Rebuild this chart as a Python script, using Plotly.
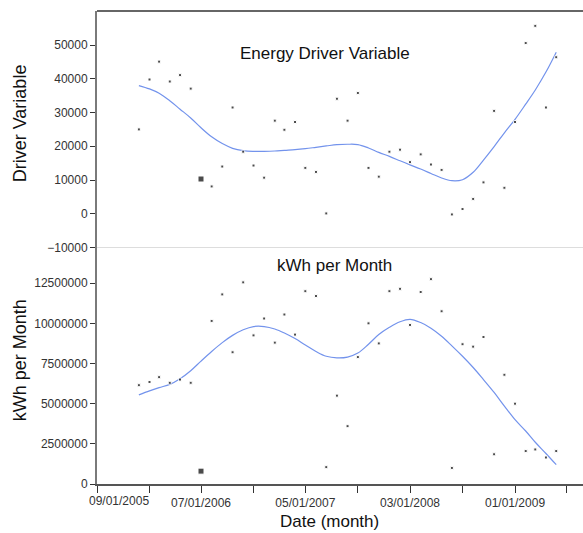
import plotly.graph_objects as go

# ---------------- data ----------------
months = [
    "2006-01-01", "2006-02-01", "2006-03-01", "2006-04-01", "2006-05-01", "2006-06-01",
    "2006-07-01", "2006-08-01", "2006-09-01", "2006-10-01", "2006-11-01", "2006-12-01",
    "2007-01-01", "2007-02-01", "2007-03-01", "2007-04-01", "2007-05-01", "2007-06-01",
    "2007-07-01", "2007-08-01", "2007-09-01", "2007-10-01", "2007-11-01", "2007-12-01",
    "2008-01-01", "2008-02-01", "2008-03-01", "2008-04-01", "2008-05-01", "2008-06-01",
    "2008-07-01", "2008-08-01", "2008-09-01", "2008-10-01", "2008-11-01", "2008-12-01",
    "2009-01-01", "2009-02-01", "2009-03-01", "2009-04-01", "2009-05-01",
]

driver_values = [
    25000, 39800, 45100, 39200, 41100, 37100, 10300, 8100, 14000, 31500, 18400, 14300,
    10700, 27600, 24900, 27200, 13600, 12400, 100, 34100, 27600, 35800, 13600, 11000,
    18400, 19000, 15300, 17600, 14600, 13000, -200, 1400, 4400, 9300, 30500, 7700,
    27200, 50600, 55700, 31500, 46400,
]

driver_smooth = [
    38000, 37000, 35700, 33500, 31000, 28400, 25500, 22800, 20800, 19400, 18700, 18500,
    18500, 18600, 18800, 19000, 19300, 19700, 20100, 20500, 20600, 20500, 19500, 18200,
    17000, 15700, 14500, 13250, 11950, 10600, 9800, 10100, 12300, 15900, 19900, 24000,
    28000, 32500, 36700, 42000, 47900,
]

kwh_values = [
    6150000, 6350000, 6650000, 6300000, 6500000, 6300000, 800000, 10150000, 11800000,
    8200000, 12550000, 9250000, 10300000, 8800000, 10550000, 9300000, 12000000,
    11700000, 1050000, 5500000, 3600000, 7900000, 10000000, 8750000, 12000000,
    12150000, 9900000, 11950000, 12750000, 10750000, 1000000, 8700000, 8550000,
    9150000, 1850000, 6800000, 5000000, 2050000, 2150000, 1650000, 2050000,
]

kwh_smooth = [
    5550000, 5800000, 6000000, 6200000, 6550000, 7050000, 7650000, 8250000, 8800000,
    9250000, 9600000, 9800000, 9800000, 9650000, 9400000, 9050000, 8650000, 8250000,
    7950000, 7850000, 7900000, 8150000, 8700000, 9300000, 9750000, 10100000, 10250000,
    10050000, 9700000, 9200000, 8600000, 7950000, 7250000, 6500000, 5700000, 4850000,
    4000000, 3300000, 2600000, 1900000, 1200000,
]

x_tick_dates = [
    "2005-09-01", "2006-02-01", "2006-07-01", "2006-12-01", "2007-05-01",
    "2007-10-01", "2008-03-01", "2008-08-01", "2009-01-01", "2009-06-01",
]
x_tick_labels = ["", "", "07/01/2006", "", "05/01/2007", "", "03/01/2008", "", "01/01/2009", ""]
first_tick_label = "09/01/2005"

driver_ticks = [-10000, 0, 10000, 20000, 30000, 40000, 50000]
kwh_ticks = [0, 2500000, 5000000, 7500000, 10000000, 12500000]

highlight_month = "2006-07-01"

# ---------------- figure ----------------
sizes = [6 if m == highlight_month else 3 for m in months]
FONT = "Liberation Sans, Arial, sans-serif"
AXIS_COL = "#7a7a7a"
TICK_FONT = dict(family=FONT, size=12, color="#333333")
TITLE_FONT = dict(family=FONT, size=17, color="#111111")

fig = go.Figure()

fig.add_trace(go.Scatter(x=months, y=driver_smooth, mode="lines",
                         line=dict(color="#7393ec", width=1.2, shape="spline"),
                         xaxis="x", yaxis="y2", hoverinfo="skip"))
fig.add_trace(go.Scatter(x=months, y=driver_values, mode="markers",
                         marker=dict(color="#000000", size=sizes, symbol="square"),
                         xaxis="x", yaxis="y2"))
fig.add_trace(go.Scatter(x=months, y=kwh_smooth, mode="lines",
                         line=dict(color="#7393ec", width=1.2, shape="spline"),
                         xaxis="x", yaxis="y", hoverinfo="skip"))
fig.add_trace(go.Scatter(x=months, y=kwh_values, mode="markers",
                         marker=dict(color="#000000", size=sizes, symbol="square"),
                         xaxis="x", yaxis="y"))


def label(text, x, y, font, angle=0):
    return dict(text=text, xref="paper", yref="paper", x=x, y=y,
                xanchor="center", yanchor="middle", textangle=angle,
                showarrow=False, font=font)


fig.update_layout(
    width=583, height=533,
    margin=dict(l=97, r=0, t=11, b=49),
    paper_bgcolor="white", plot_bgcolor="white",
    showlegend=False,
    xaxis=dict(
        type="date", range=["2005-09-01", "2009-07-18"],
        tickmode="array", tickvals=x_tick_dates, ticktext=x_tick_labels,
        ticks="outside", ticklen=7, tickcolor="#333333", tickwidth=1,
        showline=True, linecolor="#555555", linewidth=1.5,
        showgrid=False, zeroline=False, tickfont=TICK_FONT, anchor="y",
    ),
    yaxis=dict(
        domain=[0, 0.5], range=[0, 14720000],
        tickmode="array", tickvals=kwh_ticks, tickformat="d",
        ticks="outside", ticklen=5, tickcolor="#333333",
        showline=True, linecolor=AXIS_COL, linewidth=2,
        showgrid=False, zeroline=False, tickfont=TICK_FONT, anchor="x",
    ),
    yaxis2=dict(
        domain=[0.5, 1], range=[-10000, 60100],
        tickmode="array", tickvals=driver_ticks, tickformat="d",
        ticks="outside", ticklen=5, tickcolor="#333333",
        showline=True, linecolor=AXIS_COL, linewidth=2,
        showgrid=False, zeroline=False, tickfont=TICK_FONT, anchor="x",
    ),
    shapes=[
        dict(type="line", xref="paper", yref="paper", x0=0, x1=1, y0=1, y1=1,
             line=dict(color="#666666", width=2)),
        dict(type="line", xref="paper", yref="paper", x0=0, x1=1, y0=0.5, y1=0.5,
             line=dict(color="#dddddd", width=1)),
    ],
    annotations=[
        label("Energy Driver Variable", 0.470, 0.911, TITLE_FONT),
        label("kWh per Month", 0.488, 0.461, TITLE_FONT),
        label("Driver Variable", -0.158, 0.763, dict(TITLE_FONT, size=18), -90),
        label("kWh per Month", -0.158, 0.262, dict(TITLE_FONT, size=18), -90),
        label("Date (month)", 0.479, -0.080, TITLE_FONT),
        label(first_tick_label, 0.0453, -0.036, TICK_FONT),
    ],
)

fig.write_html("out.html")
